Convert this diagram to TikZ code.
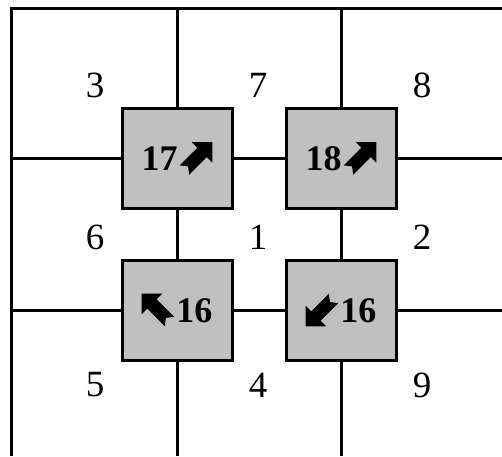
\documentclass[tikz,border=0pt]{standalone}
\usepackage{fontspec}
\setmainfont{Liberation Serif}
\definecolor{cellgray}{RGB}{192, 192, 192}
\usepackage{tikz}
\usetikzlibrary{positioning}
% thick arrow glyph, #1 = turn angle (0 points up)
\newcommand{\bigarw}[1]{\tikz[x=29pt, y=29pt, rotate=#1,
    baseline={([yshift=-12pt]current bounding box.center)}]
    \fill (0,0.68) -- (0.5,0.18) -- (0.23,0.18) -- (0.23,-0.68) -- (0,-0.5)
          -- (-0.23,-0.68) -- (-0.23,0.18) -- (-0.5,0.18) -- cycle;}

\begin{document}
\begin{tikzpicture}[
    x=1pt, y=-1pt,
    node distance=54pt,
    box/.style={draw, line width=3pt, fill=cellgray, outer sep=0pt,
                minimum width=110pt, minimum height=100pt, inner sep=0pt,
                font=\fontsize{36}{40}\selectfont\bfseries},
    num/.style={font=\fontsize{37}{40}\selectfont, inner sep=0pt},
    grid/.style={line width=3pt}
]
    \useasboundingbox (0,0) rectangle (502,456);

    % the four gray squares
    \node[box] (sq17) at (177,158.5) {17\kern2pt\bigarw{-45}};
    \node[box, right=of sq17] (sq18) {18\kern2pt\bigarw{-45}};
    \node[box, below=51.5pt of sq17] (sq16a) {\bigarw{45}\kern2pt16};
    \node[box, below=51.5pt of sq18] (sq16b) {\bigarw{135}\kern2pt16};

    % ends of the grid lines
    \coordinate (tl) at (11.5,8.5);
    \coordinate (tr) at (502,8.5);
    \coordinate (bl) at (11.5,456);
    \coordinate (top1) at (177,8.5);
    \coordinate (top2) at (341,8.5);
    \coordinate (bot1) at (177,456);
    \coordinate (bot2) at (341,456);
    \coordinate (lft1) at (11.5,158.5);
    \coordinate (lft2) at (11.5,310);
    \coordinate (rgt1) at (502,158.5);
    \coordinate (rgt2) at (502,310);

    \draw[grid] (bl) -- (tl) -- (tr);

    \draw[grid] (top1) -- (sq17);
    \draw[grid] (sq17) -- (sq16a);
    \draw[grid] (sq16a) -- (bot1);
    \draw[grid] (top2) -- (sq18);
    \draw[grid] (sq18) -- (sq16b);
    \draw[grid] (sq16b) -- (bot2);

    \draw[grid] (lft1) -- (sq17);
    \draw[grid] (sq17) -- (sq18);
    \draw[grid] (sq18) -- (rgt1);
    \draw[grid] (lft2) -- (sq16a);
    \draw[grid] (sq16a) -- (sq16b);
    \draw[grid] (sq16b) -- (rgt2);

    % cell numbers
    \node[num] (n3) at (95,85) {3};
    \node[num] (n7) at (258,85) {7};
    \node[num] (n8) at (422,85) {8};
    \node[num] (n6) at (95,237) {6};
    \node[num] (n1) at (258,237) {1};
    \node[num] (n2) at (422,237) {2};
    \node[num] (n5) at (95,385) {5};
    \node[num] (n4) at (258,385) {4};
    \node[num] (n9) at (422,385) {9};
\end{tikzpicture}
\end{document}
